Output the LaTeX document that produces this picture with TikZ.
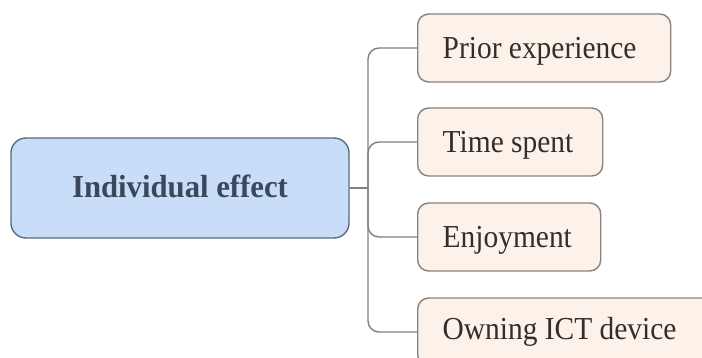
\documentclass[tikz,border=0pt]{standalone}
\usepackage{fontspec}
\setmainfont{Liberation Serif}
\newfontfamily\leaffont[FakeStretch=0.92]{Liberation Serif}
\newfontfamily\rootfont[FakeStretch=0.96]{Liberation Serif}
\definecolor{rootfill}{RGB}{200,221,248}
\definecolor{rootdraw}{RGB}{90,106,128}
\definecolor{roottext}{RGB}{58,72,92}
\definecolor{leaffill}{RGB}{252,242,234}
\definecolor{leafdraw}{RGB}{138,130,126}
\definecolor{leaftext}{RGB}{50,46,44}
\definecolor{linkc}{RGB}{128,128,128}
\tikzset{
  rootbox/.style={draw=rootdraw, fill=rootfill, line width=1.4pt, rounded corners=15pt,
    minimum width=338pt, minimum height=100pt, inner sep=0pt,
    text height=20pt, text depth=0pt,
    text=roottext, font=\rootfont\fontsize{32}{38}\selectfont\bfseries},
  leafbox/.style={draw=leafdraw, fill=leaffill, line width=1.4pt, rounded corners=11pt,
    minimum height=68pt, inner xsep=25pt, inner ysep=0pt, anchor=west, align=flush left,
    text height=22pt, text depth=0pt,
    text=leaftext, font=\leaffont\fontsize{32}{38}\selectfont},
  link/.style={draw=linkc, line width=1.4pt, rounded corners=11pt}
}
\begin{document}
\begin{tikzpicture}[x=1pt,y=-1pt]
\useasboundingbox (0,0) rectangle (702,358);
\clip (0,0) rectangle (702,358);
\fill[white] (0,0) rectangle (702,358);
\node[rootbox] (root) at (180,188) {Individual effect};
\coordinate (trunk) at (368,188);
\node[leafbox, text width=203pt] (c1) at (417,48) {Prior experience};
\node[leafbox, text width=135pt] (c2) at (417,142) {Time spent};
\node[leafbox, text width=133pt] (c3) at (417,237) {Enjoyment};
\node[leafbox, text width=250pt, text height=16pt] (c4) at (417,332) {Owning ICT device};
\draw[link] (root.east) -- (trunk);
\draw[link] (trunk) |- (c1.west);
\draw[link] (trunk) |- (c2.west);
\draw[link] (trunk) |- (c3.west);
\draw[link] (trunk) |- (c4.west);
\end{tikzpicture}
\end{document}
